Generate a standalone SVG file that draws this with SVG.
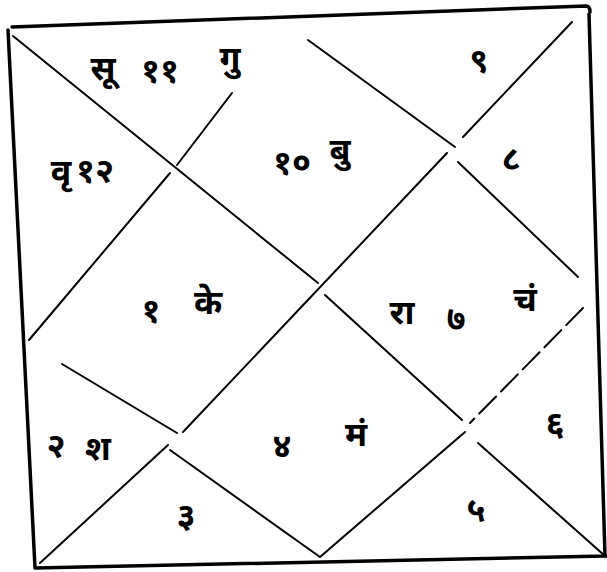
<svg xmlns="http://www.w3.org/2000/svg" width="607" height="572" viewBox="0 0 607 572">
<style>
.frame{fill:none;stroke:#000;stroke-width:3.5;stroke-linecap:round;stroke-linejoin:round}
.ln{fill:none;stroke:#000;stroke-width:2;stroke-linecap:round}
.dash{stroke-dasharray:24 7}
text{font-family:"Noto Sans Devanagari","Noto Sans","Lohit Devanagari",sans-serif;font-size:34px;font-weight:bold;fill:#000;text-anchor:middle}
</style>
<rect width="607" height="572" fill="#fff"/>
<g id="connectors">
<path class="frame" d="M12,27 L586,6 Q590,6 590,12 M8,30 L35,568 M35,568 L606,556 M589,14 L605,556"/>
<line class="ln" x1="13" y1="36" x2="318" y2="283"/>
<line class="ln" x1="325" y1="295" x2="462" y2="420"/>
<line class="ln" x1="478" y1="443" x2="605" y2="556"/>
<line class="ln" x1="572" y1="22" x2="463" y2="137"/>
<line class="ln" x1="447" y1="153" x2="183" y2="432"/>
<line class="ln" x1="168" y1="445" x2="40" y2="563"/>
<line class="ln" x1="308" y1="40" x2="455" y2="147"/>
<line class="ln" x1="458" y1="162" x2="578" y2="277"/>
<line class="ln dash" x1="583" y1="308" x2="470" y2="423"/>
<line class="ln" x1="465" y1="432" x2="320" y2="557"/>
<line class="ln" x1="320" y1="557" x2="170" y2="450"/>
<line class="ln" x1="62" y1="364" x2="177" y2="433"/>
<line class="ln" x1="29" y1="340" x2="170" y2="173"/>
<line class="ln" x1="177" y1="165" x2="232" y2="93"/>
</g>
<g id="house11"><text x="103" y="80">सू</text><text x="160" y="82">११</text><text x="230" y="70">गु</text></g>
<g id="house9"><text x="479" y="72">९</text></g>
<g id="house12"><text x="61" y="183">वृ</text><text x="95" y="182">१२</text></g>
<g id="house10"><text x="292" y="174">१०</text><text x="340" y="162">बु</text></g>
<g id="house8"><text x="511" y="170">८</text></g>
<g id="house1"><text x="151" y="322">१</text><text x="208" y="314">के</text></g>
<g id="house7"><text x="402" y="324">रा</text><text x="456" y="330">७</text><text x="525" y="311">चं</text></g>
<g id="house2"><text x="56" y="457">२</text><text x="98" y="460">श</text></g>
<g id="house3"><text x="186" y="527">३</text></g>
<g id="house4"><text x="282" y="457">४</text><text x="356" y="446">मं</text></g>
<g id="house5"><text x="476" y="521">५</text></g>
<g id="house6"><text x="555" y="435">६</text></g>
</svg>
